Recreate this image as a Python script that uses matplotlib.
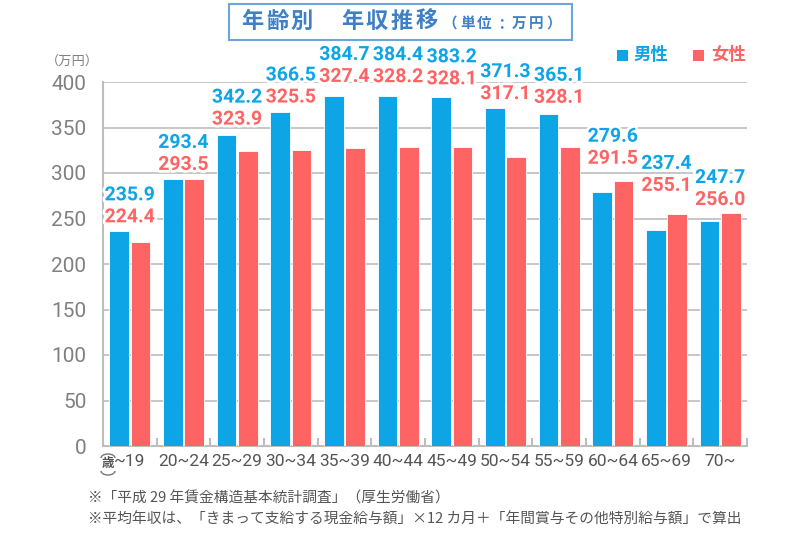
"""Age-band annual income chart (年齢別 年収推移)."""
import matplotlib; matplotlib.use('Agg')  # noqa: E702
import matplotlib.pyplot as plt
import matplotlib.patheffects as pe
from matplotlib.patches import Rectangle, Arc
from matplotlib.transforms import IdentityTransform
import numpy as np

plt.rcParams['font.family'] = ['Noto Sans CJK JP', 'DejaVu Sans']

AGES = ['~19', '20~24', '25~29', '30~34', '35~39', '40~44', '45~49',
        '50~54', '55~59', '60~64', '65~69', '70~']
MALE = [235.9, 293.4, 342.2, 366.5, 384.7, 384.4, 383.2, 371.3, 365.1, 279.6, 237.4, 247.7]
FEMALE = [224.4, 293.5, 323.9, 325.5, 327.4, 328.2, 328.1, 317.1, 328.1, 291.5, 255.1, 256.0]
YTICKS = [0, 50, 100, 150, 200, 250, 300, 350, 400]
# how far (px) the lower label of each group sits above the taller bar
LABEL_LIFT = [14, 14, 15, 15, 19, 19, 18, 14, 16, 22, 28, 13]

BLUE = '#0EA5E6'
RED = '#FF6464'
GRID = '#BDBDBD'
TITLE_BLUE = '#3D80C6'
NUM_FONT = ['Roboto', 'DejaVu Sans']


def spaced(x0, y, text, step, **kw):
    # draw text one glyph at a time, for letter spacing
    for k, ch in enumerate(text):
        fig.text((x0 + k * step) / 800, 1 - y / 533, ch, ha='center', va='center', **kw)


fig = plt.figure(figsize=(8, 5.33), dpi=100)
ax = fig.add_axes([103 / 800, 1 - 446 / 533, 644 / 800, 364 / 533])

x = np.arange(len(AGES))
w = 0.37
ax.bar(x - 0.2, MALE, w, color=BLUE, edgecolor='white', linewidth=0.6, zorder=3)
ax.bar(x + 0.2, FEMALE, w, color=RED, edgecolor='white', linewidth=0.6, zorder=3)

ax.set_xlim(-0.5, len(AGES) - 0.5)
ax.set_ylim(0, 400)
ax.set_yticks(YTICKS)
ax.set_yticklabels([str(v) for v in YTICKS], family=NUM_FONT, fontsize=15, color='#808080')
ax.tick_params(axis='y', length=0, pad=12)
ax.yaxis.grid(True, color=GRID, linewidth=1.2, zorder=0)
ax.set_axisbelow(True)

ax.set_xticks(x)
ax.set_xticklabels(AGES, family=NUM_FONT, fontsize=12.5, color='#555555')
ax.tick_params(axis='x', length=0, pad=6)
ax.set_xticks(np.arange(len(AGES)) + 0.5, minor=True)
ax.tick_params(axis='x', which='minor', direction='in', length=6, color=GRID, width=1.5)

for s in ['top', 'right']:
    ax.spines[s].set_visible(False)
for s in ['left', 'bottom']:
    ax.spines[s].set_color(GRID)
    ax.spines[s].set_linewidth(1.5)

# value labels stacked above each group
stroke = [pe.withStroke(linewidth=4, foreground='white')]
for i, (m, f) in enumerate(zip(MALE, FEMALE)):
    top = max(m, f)
    lift = LABEL_LIFT[i]
    ax.annotate(f'{f:.1f}', (i, top), xytext=(0, lift), textcoords='offset pixels',
                ha='center', va='center', color=RED, fontsize=14, fontweight='bold',
                family=NUM_FONT, path_effects=stroke, zorder=5)
    ax.annotate(f'{m:.1f}', (i, top), xytext=(0, lift + 22), textcoords='offset pixels',
                ha='center', va='center', color=BLUE, fontsize=14, fontweight='bold',
                family=NUM_FONT, path_effects=stroke, zorder=5)

# unit label
fig.text(72 / 800, 1 - 61 / 533, '（万円）', ha='center', va='center',
         fontsize=9.5, color='#808080')

# 歳 marker under the first tick, bracketed by two small arcs
fig.text(108 / 800, 1 - 464 / 533, '歳', ha='center', va='center', fontsize=9,
         color='#555555', fontweight='bold')
fig.patches.append(Arc((108, 533 - 458), 14, 8, theta1=0, theta2=180,
                       transform=IdentityTransform(), color='#777777', linewidth=1))
fig.patches.append(Arc((108, 533 - 471), 14, 8, theta1=180, theta2=360,
                       transform=IdentityTransform(), color='#777777', linewidth=1))

# title box
fig.patches.append(Rectangle((229 / 800, 1 - 40 / 533), 343 / 800, 36 / 533,
                             transform=fig.transFigure, facecolor='white',
                             edgecolor='#6FA4DA', linewidth=1.5))
spaced(252, 21, '年齢別', 25, fontsize=16, fontweight='bold', color=TITLE_BLUE)
spaced(352, 21, '年収推移', 25, fontsize=16, fontweight='bold', color=TITLE_BLUE)
spaced(450, 23, '（単位：万円）', 17.3, fontsize=10.5, fontweight='bold', color=TITLE_BLUE)

# legend
fig.patches.append(Rectangle((617 / 800, 1 - 61 / 533), 11 / 800, 11 / 533,
                             transform=fig.transFigure, facecolor=BLUE, edgecolor='none'))
fig.text(634 / 800, 1 - 55 / 533, '男性', ha='left', va='center', fontsize=12.5,
         fontweight='bold', color=BLUE)
fig.patches.append(Rectangle((693 / 800, 1 - 61 / 533), 11 / 800, 11 / 533,
                             transform=fig.transFigure, facecolor=RED, edgecolor='none'))
fig.text(711 / 800, 1 - 55 / 533, '女性', ha='left', va='center', fontsize=12.5,
         fontweight='bold', color=RED)

# footnotes
fig.text(88 / 800, 1 - 498 / 533, '※「平成 29 年賃金構造基本統計調査」（厚生労働省）',
         ha='left', va='center', fontsize=10.6, color='#555555')
fig.text(88 / 800, 1 - 520 / 533,
         '※平均年収は、「きまって支給する現金給与額」×12 カ月＋「年間賞与その他特別給与額」で算出',
         ha='left', va='center', fontsize=10.6, color='#555555')

fig.savefig('out.png', dpi=100)
